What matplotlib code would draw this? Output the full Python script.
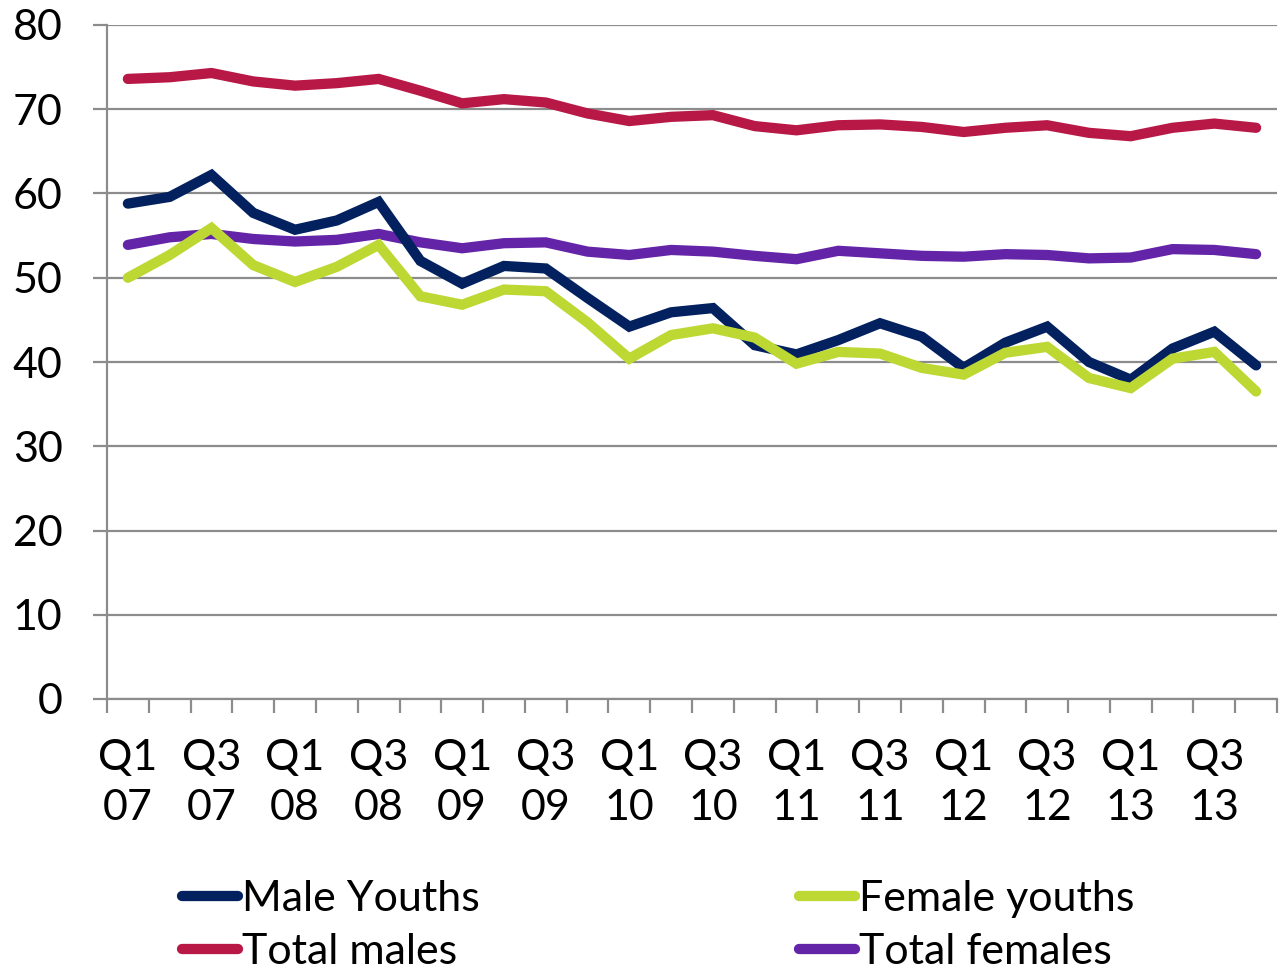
import matplotlib
matplotlib.use("Agg")
import matplotlib.pyplot as plt
from matplotlib.lines import Line2D

plt.rcParams['font.family'] = ['Lato', 'DejaVu Sans']

quarters = ["Q1\n07", "Q2\n07", "Q3\n07", "Q4\n07",
            "Q1\n08", "Q2\n08", "Q3\n08", "Q4\n08",
            "Q1\n09", "Q2\n09", "Q3\n09", "Q4\n09",
            "Q1\n10", "Q2\n10", "Q3\n10", "Q4\n10",
            "Q1\n11", "Q2\n11", "Q3\n11", "Q4\n11",
            "Q1\n12", "Q2\n12", "Q3\n12", "Q4\n12",
            "Q1\n13", "Q2\n13", "Q3\n13", "Q4\n13"]

male_youths = [58.8, 59.6, 62.2, 57.7, 55.7, 56.8, 59.0, 52.0, 49.3, 51.4, 51.1, 47.6, 44.2, 45.9,
               46.4, 42.0, 40.9, 42.6, 44.6, 43.0, 39.3, 42.3, 44.2, 40.0, 37.9, 41.6, 43.6, 39.6]
female_youths = [50.0, 52.7, 55.9, 51.5, 49.5, 51.3, 53.9, 47.8, 46.8, 48.6, 48.4, 44.7, 40.4, 43.2,
                 44.0, 42.9, 39.8, 41.2, 41.0, 39.3, 38.5, 41.1, 41.8, 38.1, 36.9, 40.4, 41.2, 36.5]
total_males = [73.6, 73.8, 74.3, 73.3, 72.8, 73.1, 73.6, 72.2, 70.7, 71.2, 70.8, 69.5, 68.6, 69.1,
               69.3, 68.0, 67.5, 68.1, 68.2, 67.9, 67.3, 67.8, 68.1, 67.2, 66.8, 67.8, 68.3, 67.8]
total_females = [53.9, 54.8, 55.2, 54.6, 54.3, 54.5, 55.2, 54.2, 53.5, 54.1, 54.2, 53.1, 52.7, 53.3,
                 53.1, 52.6, 52.2, 53.2, 52.9, 52.6, 52.5, 52.8, 52.7, 52.3, 52.4, 53.4, 53.3, 52.8]

series = [("Male Youths", male_youths, "#03215F"),
          ("Total males", total_males, "#B81846"),
          ("Female youths", female_youths, "#BDD733"),
          ("Total females", total_females, "#6424A8")]

FS = 31

fig = plt.figure(figsize=(12.81, 9.74), dpi=100)
ax = fig.add_axes([107/1281, 1 - 699/974, (1277 - 107)/1281, (699 - 25)/974])

x = list(range(len(quarters)))
lookup = {name: (vals, col) for name, vals, col in series}
for name in ["Total males", "Total females", "Male Youths", "Female youths"]:
    vals, col = lookup[name]
    ax.plot(x, vals, color=col, lw=7.4, solid_capstyle='round', solid_joinstyle='miter', zorder=3)

ax.set_xlim(-0.5, len(quarters) - 0.5)
ax.set_ylim(0, 80)
ax.set_yticks(range(0, 81, 10))
ax.yaxis.grid(True, color='#8C8C8C', lw=1.6)
ax.set_axisbelow(True)
for s in ['top', 'right']:
    ax.spines[s].set_visible(False)
for s in ['left', 'bottom']:
    ax.spines[s].set_color('#8C8C8C')
    ax.spines[s].set_linewidth(1.6)

ax.set_xticks(x[::2])
ax.set_xticklabels(quarters[::2])
ax.set_xticks([i - 0.5 for i in range(len(quarters) + 1)], minor=True)
ax.tick_params(axis='x', which='major', length=0, pad=29, labelsize=FS)
ax.tick_params(axis='x', which='minor', length=10, width=1.6, color='#8C8C8C', direction='out')
ax.tick_params(axis='y', which='major', length=10, width=1.6, color='#8C8C8C', pad=22, labelsize=FS)
for lab in ax.get_xticklabels():
    lab.set_linespacing(1.38)

handles = [Line2D([0], [0], color=col, lw=7.4, solid_capstyle='round') for _, _, col in series]
labels = [name for name, _, _ in series]
fig.legend(handles, labels, ncol=2, loc='upper left', bbox_to_anchor=(182/1281, 1 - 880/974),
           frameon=False, fontsize=FS, handlelength=1.3, handletextpad=0.1,
           columnspacing=7.4, labelspacing=0.36, borderpad=0, borderaxespad=0)

fig.savefig("out.png", dpi=100)
